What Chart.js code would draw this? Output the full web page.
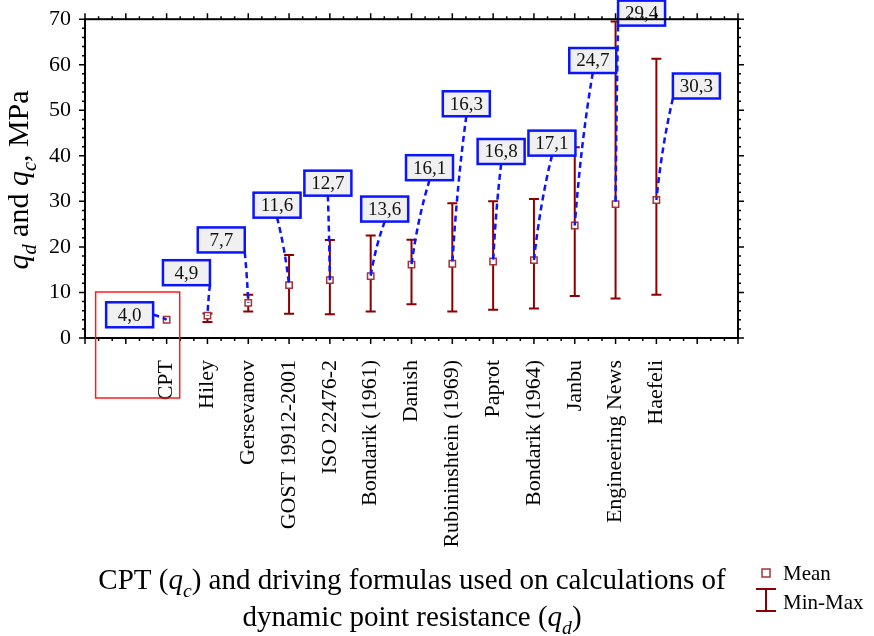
<!DOCTYPE html>
<html>
<head>
<meta charset="utf-8">
<script src="https://cdn.jsdelivr.net/npm/chart.js@4/dist/chart.umd.min.js"></script>
<style>
  body { margin: 0; background: #fff; }
  #c { display: block; }
</style>
</head>
<body>
<canvas id="c" width="874" height="636"></canvas>
<script>
// categories and values
const categories = ['CPT', 'Hiley', 'Gersevanov', 'GOST 19912-2001', 'ISO 22476-2', 'Bondarik (1961)',
  'Danish', 'Rubininshtein (1969)', 'Paprot', 'Bondarik (1964)', 'Janbu', 'Engineering News', 'Haefeli'];
const meanValues = [4.0, 4.9, 7.7, 11.6, 12.7, 13.6, 16.1, 16.3, 16.8, 17.1, 24.7, 29.4, 30.3];
const minValues  = [4.0, 3.5, 5.8, 5.3, 5.2, 5.8, 7.4, 5.8, 6.2, 6.5, 9.2, 8.7, 9.5];
const maxValues  = [4.0, 5.4, 9.5, 18.2, 21.5, 22.5, 21.6, 29.6, 30.0, 30.5, 41.9, 69.5, 61.3];
const yTicks = [0, 10, 20, 30, 40, 50, 60, 70];

// callout box centre relative to the point (px), and where the dashed line leaves the box
const calloutOffsets = [[-37, -5], [-21, -43], [-27, -63], [-12, -80], [-2, -97], [14, -67], [18, -97],
  [14, -160], [8, -110], [18, -117], [18, -165], [26, -191], [40, -114]];
const calloutAnchor = ['r', 1, 1, 0.5, 0.5, 0.5, 0.5, 0.5, 0.5, 0.5, 0.5, 0, 0];

const SERIF = '"Liberation Serif", "Times New Roman", serif';
const BAR = '#8b0000';
const MARK = '#a3343a';
const BLUE = '#0a14ff';

function fmt(v) { return v.toFixed(1).replace('.', ','); }

function richWidth(ctx, parts, size) {
  let w = 0;
  parts.forEach(p => {
    ctx.font = (p.i ? 'italic ' : '') + (p.sub ? size * 0.68 : size) + 'px ' + SERIF;
    w += ctx.measureText(p.t).width;
  });
  return w;
}
function drawRich(ctx, parts, x, y, size) {
  ctx.textAlign = 'left';
  ctx.textBaseline = 'alphabetic';
  parts.forEach(p => {
    const s = p.sub ? size * 0.68 : size;
    ctx.font = (p.i ? 'italic ' : '') + s + 'px ' + SERIF;
    ctx.fillText(p.t, x, y + (p.sub ? size * 0.28 : 0));
    x += ctx.measureText(p.t).width;
  });
}

const decor = {
  id: 'decor',
  beforeDatasetsDraw(chart) {
    const ctx = chart.ctx, xs = chart.scales.x, ys = chart.scales.y;
    ctx.save();
    ctx.strokeStyle = BAR;
    ctx.lineWidth = 2;
    categories.forEach((c, i) => {
      if (maxValues[i] === minValues[i]) return;
      const x = xs.getPixelForValue(i);
      const y1 = ys.getPixelForValue(minValues[i]);
      const y2 = ys.getPixelForValue(maxValues[i]);
      ctx.beginPath();
      ctx.moveTo(x, y1); ctx.lineTo(x, y2);
      ctx.moveTo(x - 5, y1); ctx.lineTo(x + 5, y1);
      ctx.moveTo(x - 5, y2); ctx.lineTo(x + 5, y2);
      ctx.stroke();
    });
    ctx.restore();
  },
  afterDatasetsDraw(chart) {
    const ctx = chart.ctx, xs = chart.scales.x, ys = chart.scales.y;
    ctx.save();
    const bw = 47, bh = 25;
    categories.forEach((c, i) => {
      const px = xs.getPixelForValue(i), py = ys.getPixelForValue(meanValues[i]);
      const cx = px + calloutOffsets[i][0], cy = py + calloutOffsets[i][1];
      let sx, sy;
      if (calloutAnchor[i] === 'r') { sx = cx + bw / 2; sy = cy; }
      else { sx = cx - bw / 2 + bw * calloutAnchor[i]; sy = cy + bh / 2; }
      ctx.setLineDash([6, 4]);
      ctx.strokeStyle = BLUE;
      ctx.lineWidth = 2.5;
      ctx.beginPath();
      ctx.moveTo(sx, sy);
      ctx.quadraticCurveTo(sx + (px - sx) * 0.65, sy + (py - sy) * 0.45, px, py);
      ctx.stroke();
      ctx.setLineDash([]);
      ctx.fillStyle = '#f0f0f0';
      ctx.fillRect(cx - bw / 2, cy - bh / 2, bw, bh);
      ctx.lineWidth = 2.5;
      ctx.strokeRect(cx - bw / 2, cy - bh / 2, bw, bh);
      ctx.fillStyle = '#111';
      ctx.font = '19px ' + SERIF;
      ctx.textAlign = 'center';
      ctx.textBaseline = 'middle';
      ctx.fillText(fmt(meanValues[i]), cx, cy + 1);
    });
    ctx.restore();
  },
  afterDraw(chart) {
    const ctx = chart.ctx, xs = chart.scales.x, ys = chart.scales.y;
    const a = chart.chartArea;
    ctx.save();
    // frame
    ctx.strokeStyle = '#000';
    ctx.lineWidth = 2;
    ctx.strokeRect(a.left, a.top, a.right - a.left, a.bottom - a.top);
    // ticks, major and minor, pointing outward on all four sides
    ctx.lineWidth = 1.5;
    ctx.beginPath();
    for (let v = 0; v <= 70; v += 2) {
      const y = ys.getPixelForValue(v);
      const len = v % 10 === 0 ? 6 : 3;
      ctx.moveTo(a.left - len, y); ctx.lineTo(a.left, y);
      ctx.moveTo(a.right, y); ctx.lineTo(a.right + len, y);
    }
    for (let k = -6; k <= 42; k++) {
      const x = xs.getPixelForValue(k / 3);
      const len = k % 3 === 0 ? 6 : 3;
      ctx.moveTo(x, a.bottom); ctx.lineTo(x, a.bottom + len);
      ctx.moveTo(x, a.top - len); ctx.lineTo(x, a.top);
    }
    ctx.stroke();
    // red highlight box around CPT
    ctx.strokeStyle = '#ff1a1a';
    ctx.lineWidth = 1.5;
    const rx1 = xs.getPixelForValue(-1.74), rx2 = xs.getPixelForValue(0.32);
    const ry1 = ys.getPixelForValue(10.1);
    ctx.strokeRect(rx1, ry1, rx2 - rx1, a.bottom + 60 - ry1);
    // axis titles
    ctx.fillStyle = '#000';
    const t1 = [{t: 'CPT ('}, {t: 'q', i: true}, {t: 'c', i: true, sub: true},
      {t: ') and driving formulas used on calculations of'}];
    const t2 = [{t: 'dynamic point resistance ('}, {t: 'q', i: true}, {t: 'd', i: true, sub: true}, {t: ')'}];
    const cxT = 412;
    drawRich(ctx, t1, cxT - richWidth(ctx, t1, 29) / 2, 589, 29);
    drawRich(ctx, t2, cxT - richWidth(ctx, t2, 29) / 2, 626, 29);
    const ty = [{t: 'q', i: true}, {t: 'd', i: true, sub: true}, {t: ' and '}, {t: 'q', i: true},
      {t: 'c', i: true, sub: true}, {t: ', MPa'}];
    ctx.save();
    ctx.translate(28, 180);
    ctx.rotate(-Math.PI / 2);
    drawRich(ctx, ty, -richWidth(ctx, ty, 30) / 2, 0, 30);
    ctx.restore();
    // legend
    ctx.strokeStyle = MARK;
    ctx.lineWidth = 1.5;
    ctx.fillStyle = '#fff';
    ctx.fillRect(762, 569, 8, 8);
    ctx.strokeRect(762, 569, 8, 8);
    ctx.strokeStyle = BAR;
    ctx.lineWidth = 2;
    ctx.beginPath();
    ctx.moveTo(766, 589); ctx.lineTo(766, 611);
    ctx.moveTo(756, 589); ctx.lineTo(776, 589);
    ctx.moveTo(756, 611); ctx.lineTo(776, 611);
    ctx.stroke();
    ctx.fillStyle = '#000';
    ctx.font = '21px ' + SERIF;
    ctx.textAlign = 'left';
    ctx.textBaseline = 'middle';
    ctx.fillText('Mean', 783, 574);
    ctx.fillText('Min-Max', 783, 603);
    ctx.restore();
  }
};

new Chart(document.getElementById('c'), {
  type: 'scatter',
  data: {
    datasets: [{
      label: 'Mean',
      data: meanValues.map((v, i) => ({x: i, y: v})),
      pointStyle: 'rect',
      pointRadius: 4.5,
      pointBorderWidth: 1.5,
      pointBorderColor: MARK,
      pointBackgroundColor: '#fff'
    }]
  },
  options: {
    responsive: false,
    animation: false,
    layout: {padding: {left: 0, top: 18, right: 136, bottom: 0}},
    plugins: {legend: {display: false}, tooltip: {enabled: false}},
    scales: {
      x: {
        type: 'linear', min: -2, max: 14,
        grid: {display: false}, border: {display: false},
        ticks: {
          stepSize: 1, autoSkip: false, minRotation: 90, maxRotation: 90, padding: 14,
          color: '#000', font: {family: SERIF, size: 22},
          callback: v => categories[v] !== undefined ? categories[v] : ''
        },
        afterFit(s) { s.height = 298; }
      },
      y: {
        min: 0, max: 70,
        grid: {display: false}, border: {display: false},
        afterBuildTicks(s) { s.ticks = yTicks.map(v => ({value: v})); },
        ticks: {color: '#000', padding: 6, font: {family: SERIF, size: 22}},
        afterFit(s) { s.width = 85; }
      }
    }
  },
  plugins: [decor]
});
</script>
</body>
</html>
